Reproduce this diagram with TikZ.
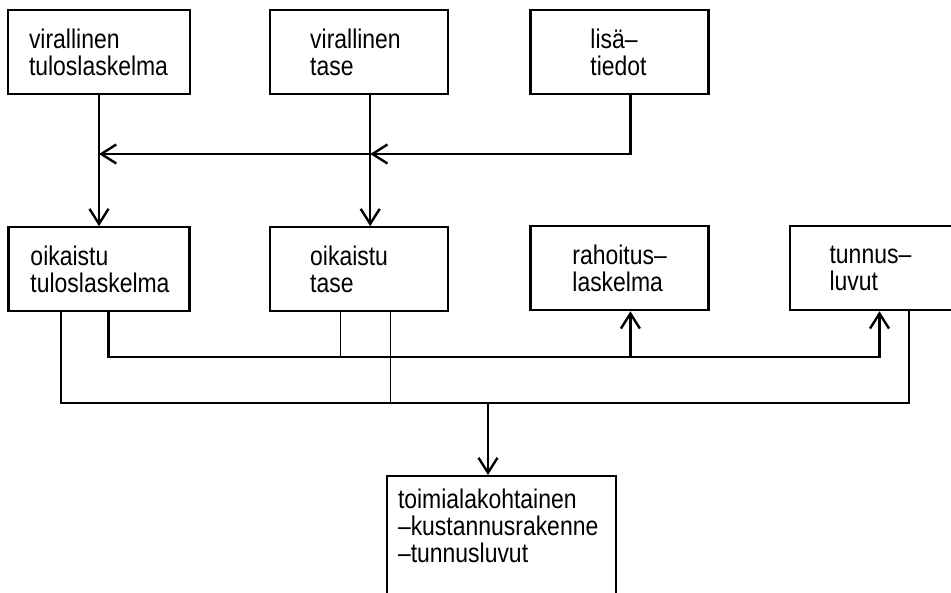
\documentclass[tikz,border=0pt]{standalone}
\usepackage{fontspec}
\setmainfont{Liberation Sans}[FakeStretch=0.85]
\usetikzlibrary{arrows.meta,positioning}

\tikzset{
  box/.style 2 args={draw, line width=2.2pt, minimum height=84pt, align=left,
    inner ysep=0pt, inner xsep=#2, text width=#1, font=\fontsize{27}{27}\selectfont},
  arr/.style={-{Straight Barb[length=15pt,width=19pt,line width=2.4pt]}, line width=2.4pt},
  conn/.style={line width=2pt},
  thinconn/.style={line width=1.4pt},
}

\begin{document}
\begin{tikzpicture}[x=1pt, y=-1pt, node distance=78pt]
  \useasboundingbox (0,0) rectangle (951,593);
  \clip (0,0) rectangle (951,593);

  % top row
  \node[box={140pt}{21pt}] (vt) at (99,52) {virallinen\\tuloslaskelma};
  \node[box={98pt}{40pt}, right=of vt] (vtase) {virallinen\\tase};
  \node[box={58pt}{60pt}, right=80pt of vtase] (lisa) {\mbox{lisä–}\\tiedot};

  % middle row
  \node[box={137pt}{22pt}, below=131pt of vt] (ot) {oikaistu\\tuloslaskelma};
  \node[box={98pt}{40pt}, below=131pt of vtase] (otase) {oikaistu\\tase};
  \node[box={94pt}{42pt}, below=130pt of lisa] (rah) {\mbox{rahoitus–}\\laskelma};
  \node[box={110pt}{40pt}, right=79pt of rah] (tun) {\mbox{tunnus–}\\luvut};

  % bottom
  \node[box={207pt}{11pt}, minimum height=0pt, inner ysep=13pt, text depth=100pt,
    anchor=north] (toim) at (501.5,475) {toimialakohtainen\\–kustannusrakenne\\–tunnusluvut};

  % levels
  \coordinate (topbus) at (0,154);
  \coordinate (midbus) at (0,357);
  \coordinate (lowbus) at (0,403);

  % ends
  \coordinate (vtase1) at ([xshift=11pt]vtase.south);
  \coordinate (lisa1) at ([xshift=11pt]lisa.south);
  \coordinate (ot1) at ([xshift=-38pt]ot.south);
  \coordinate (ot2) at ([xshift=9.5pt]ot.south);
  \coordinate (otase1) at ([xshift=-19pt]otase.south);
  \coordinate (otase2) at ([xshift=31pt]otase.south);
  \coordinate (rah1) at ([xshift=11pt]rah.south);
  \coordinate (tun1) at ([xshift=91pt]tun.south west);
  \coordinate (tun2) at ([xshift=120pt]tun.south west);
  \coordinate (toim1) at ([xshift=-13.5pt]toim.north);

  %arrows
  \draw[arr] (vt.south) -- (vt.south |- ot.north);
  \draw[arr] (vtase1) -- (vtase1 |- otase.north);
  \draw[arr] (lisa1) |- (vtase1 |- topbus);
  \draw[arr] (vtase1 |- topbus) -- (vt.south |- topbus);

  \draw[arr] (ot2) |- (tun1 |- midbus) -- (tun1);
  \draw[arr] (rah1 |- midbus) -- (rah1);
  \draw[thinconn] (otase1) -- (otase1 |- midbus);

  \draw[conn] (ot1) |- (tun2 |- lowbus) -- (tun2);
  \draw[thinconn] (otase2) -- (otase2 |- lowbus);
  \draw[arr] (toim1 |- lowbus) -- (toim1);
\end{tikzpicture}
\end{document}
